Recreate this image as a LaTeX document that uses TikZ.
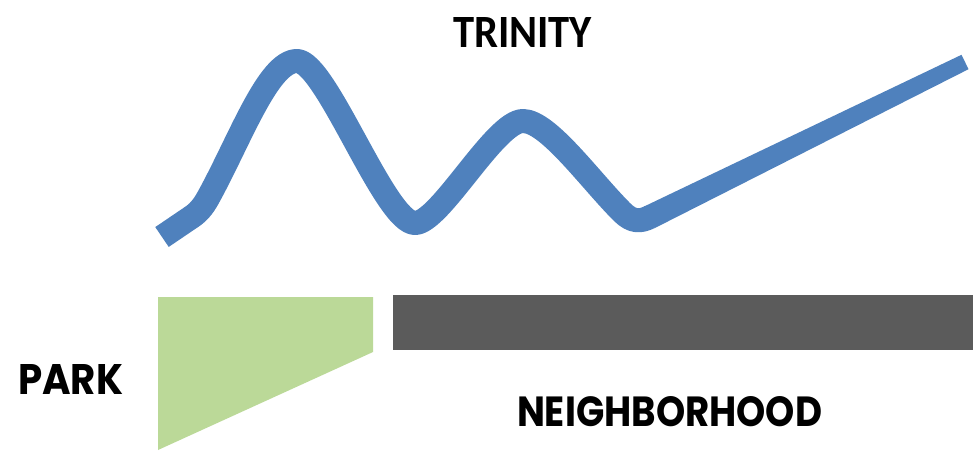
\documentclass[tikz,border=0pt]{standalone}
\usepackage{fontspec}
\usepackage{graphicx}
\setmainfont{Poppins}
\newfontfamily\trinityfont{Carlito}
\definecolor{river}{RGB}{79,129,189}
\definecolor{parkgreen}{RGB}{187,217,152}
\definecolor{street}{RGB}{91,91,91}
\begin{document}
\begin{tikzpicture}[x=1pt,y=-1pt,
  tag/.style={inner sep=0pt, outer sep=0pt, anchor=south west, text=black},
  riverband/.style={draw=river, line width=24pt, line join=round}]
\useasboundingbox (0,0) rectangle (973,452);
\fill[white] (0,0) rectangle (973,452);

% the river: two meanders, then a long straight reach that narrows
\draw[riverband] (162,237) -- (190,218)
  .. controls (198,213) and (203,207) .. (208,198)
  .. controls (240,140) and (268,61) .. (297,61)
  .. controls (326,61) and (385,223) .. (415,223)
  .. controls (440,223) and (495,121) .. (523,121)
  .. controls (548,121) and (590,180) .. (622,212)
  .. controls (632,222) and (640,222) .. (650,217);
\fill[river] (646,225.5) -- (655.3,227.8) -- (968.5,69.2) -- (961.5,54.8)
  -- (644.7,206.2) -- (640,209) -- cycle;

% park wedge and neighbourhood bar
\fill[parkgreen] (158,297) -- (373,297) -- (373,352) -- (158,450) -- cycle;
\fill[street] (393,295) rectangle (973,350);

% labels
\node[tag] (trinity) at (453,48) {\resizebox{139pt}{30pt}{\trinityfont\bfseries TRINITY}};
\node[tag] (park) at (18,394) {\resizebox{105pt}{30pt}{\bfseries PARK}};
\node[tag] (hood) at (517,427) {\resizebox{305pt}{30pt}{\bfseries NEIGHBORHOOD}};
\end{tikzpicture}
\end{document}
